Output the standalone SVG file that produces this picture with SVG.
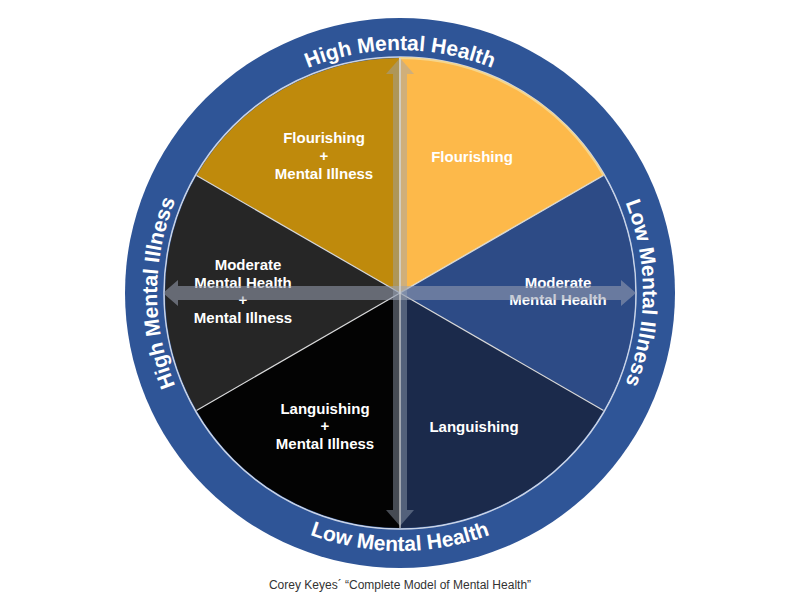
<svg xmlns="http://www.w3.org/2000/svg" width="800" height="600" viewBox="0 0 800 600">
<style>
.lbl{font-family:"Liberation Sans",Arial,sans-serif;font-weight:bold;font-size:15px;fill:#fff;text-anchor:middle}
.ring{font-family:"Liberation Sans",Arial,sans-serif;font-weight:bold;font-size:21px;fill:#fff;text-anchor:middle}
.sep{stroke:#d9d9d9;stroke-width:1.2}
</style>
<defs>
<path id="pTop" d="M157,293 A243,243 0 0 1 643,293"/>
<path id="pLeft" d="M400,536 A243,243 0 0 1 400,50"/>
<path id="pRight" d="M400,50 A243,243 0 0 1 400,536"/>
<path id="pBot" d="M142,293 A258,258 0 0 0 658,293"/>
</defs>
<rect width="800" height="600" fill="#fff"/>
<g id="ring">
<circle cx="400" cy="293" r="275" fill="#2F5597"/>
<circle cx="400" cy="293" r="236" fill="none" stroke="#c9d3e6" stroke-width="1.5"/>
<text class="ring"><textPath href="#pTop" startOffset="50%">High Mental Health</textPath></text>
<text class="ring"><textPath href="#pLeft" startOffset="50%">High Mental Illness</textPath></text>
<text class="ring"><textPath href="#pRight" startOffset="50%">Low Mental Illness</textPath></text>
<text class="ring"><textPath href="#pBot" startOffset="50%">Low Mental Health</textPath></text>
</g>
<g id="flourishing-mi">
<path d="M400,293 L196.5,175.5 A235,235 0 0 1 400,58 Z" fill="#BF8A0C"/>
<text class="lbl" x="324" y="143">Flourishing</text><text class="lbl" x="324" y="161">+</text><text class="lbl" x="324" y="179">Mental Illness</text>
</g>
<g id="flourishing">
<path d="M400,293 L400,58 A235,235 0 0 1 603.5,175.5 Z" fill="#FDB94A" stroke="#F6D58A" stroke-width="2"/>
<text class="lbl" x="472" y="162">Flourishing</text>
</g>
<g id="moderate">
<path d="M400,293 L603.5,175.5 A235,235 0 0 1 603.5,410.5 Z" fill="#2D4B86"/>
<text class="lbl" x="558" y="288">Moderate</text><text class="lbl" x="558" y="305">Mental Health</text>
</g>
<g id="languishing">
<path d="M400,293 L603.5,410.5 A235,235 0 0 1 400,528 Z" fill="#1B2A4B"/>
<text class="lbl" x="474" y="432">Languishing</text>
</g>
<g id="languishing-mi">
<path d="M400,293 L400,528 A235,235 0 0 1 196.5,410.5 Z" fill="#030303"/>
<text class="lbl" x="325" y="414">Languishing</text><text class="lbl" x="325" y="431">+</text><text class="lbl" x="325" y="449">Mental Illness</text>
</g>
<g id="moderate-mi">
<path d="M400,293 L196.5,410.5 A235,235 0 0 1 196.5,175.5 Z" fill="#262626"/>
<text class="lbl" x="248" y="270">Moderate</text><text class="lbl" x="243" y="288">Mental Health</text><text class="lbl" x="243" y="305">+</text><text class="lbl" x="243" y="323">Mental Illness</text>
</g>
<g id="connectors">
<line class="sep" x1="400" y1="293" x2="196.5" y2="175.5"/>
<line class="sep" x1="400" y1="293" x2="603.5" y2="175.5"/>
<line class="sep" x1="400" y1="293" x2="603.5" y2="410.5"/>
<line class="sep" x1="400" y1="293" x2="196.5" y2="410.5"/>
<polygon points="163,293 178,280 178,286 621,286 621,280 636,293 621,306 621,300 178,300 178,306" fill="#9aa3b5" opacity="0.55"/>
<polygon points="400,58 414,74 407,74 407,510 414,510 400,526 386,510 393,510 393,74 386,74" fill="#9aa3b5" opacity="0.45"/>
<line class="sep" x1="400" y1="58" x2="400" y2="528"/>
</g>
<text x="400" y="589" style="font-family:'Liberation Sans',Arial,sans-serif;font-size:12px;fill:#333;text-anchor:middle">Corey Keyes´ “Complete Model of Mental Health”</text>
</svg>
